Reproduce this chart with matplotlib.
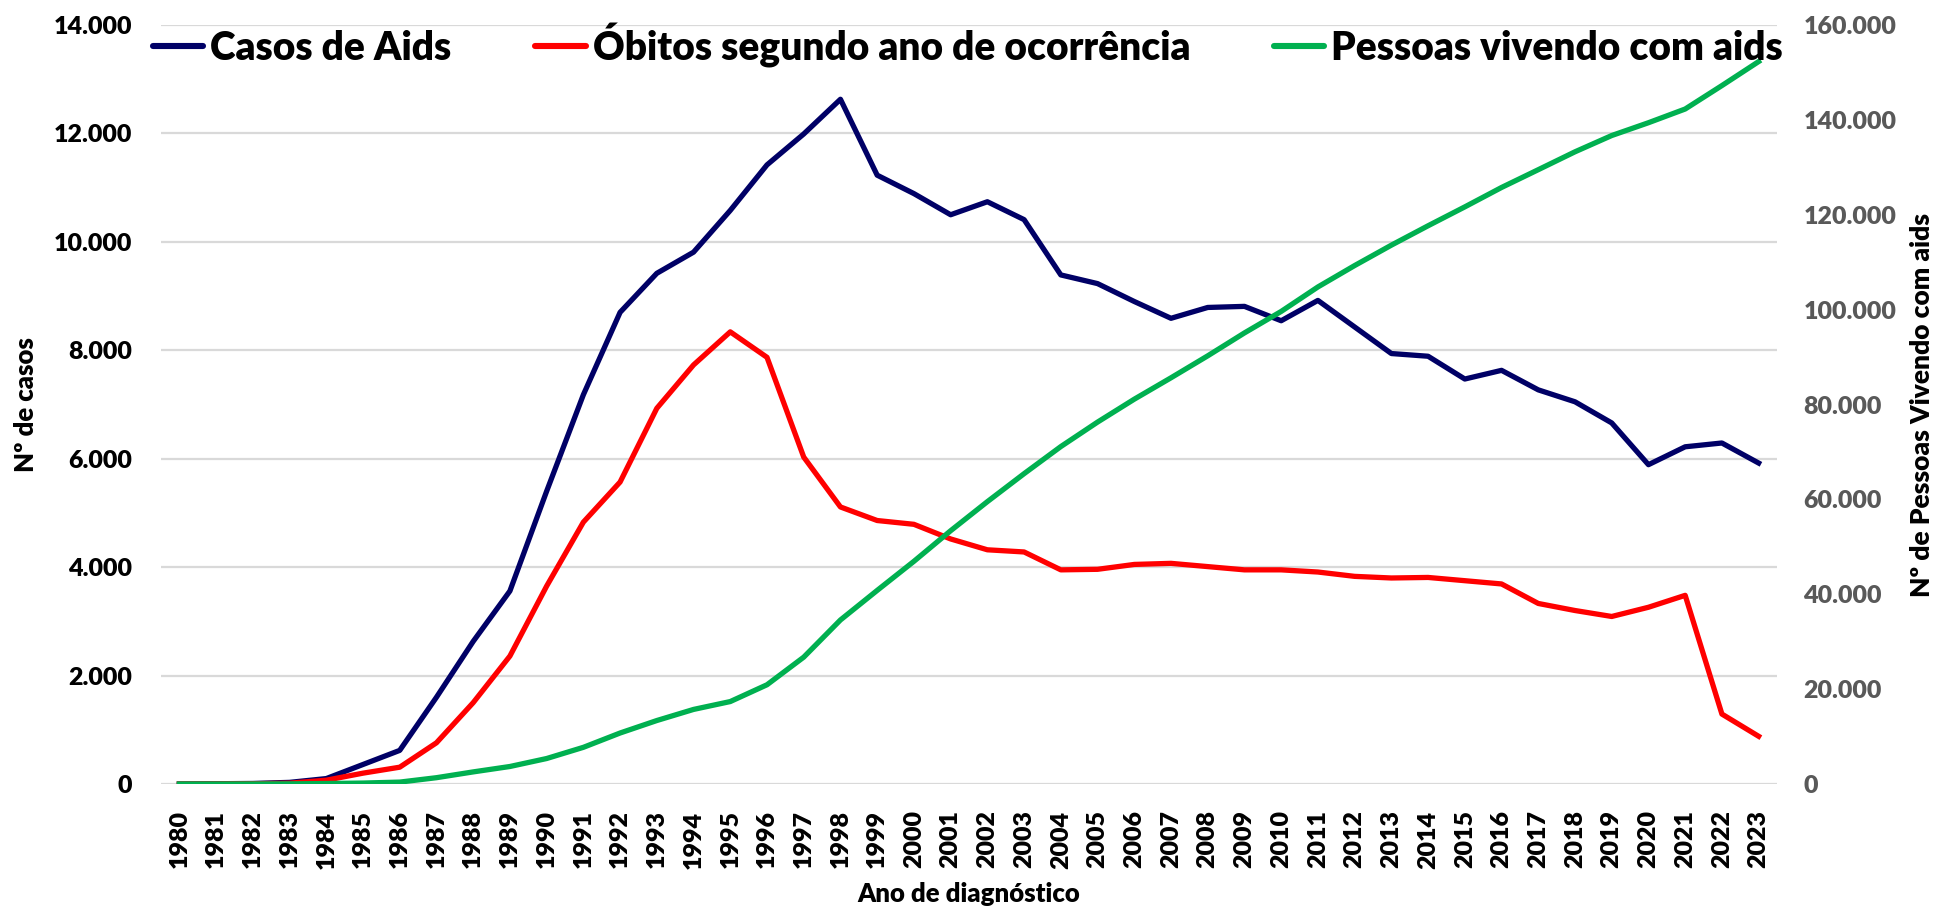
import matplotlib
matplotlib.use("Agg")
from matplotlib import pyplot as plt
from matplotlib.ticker import FuncFormatter, MultipleLocator

# Data
anos = list(range(1980, 2024))
casos_aids = [0, 5, 10, 30, 100, 360, 620, 1600, 2630, 3560,
              5400, 7180, 8700, 9420, 9810, 10580, 11420, 11990, 12630, 11230,
              10890, 10500, 10740, 10410, 9390, 9230, 8900, 8590, 8790, 8810,
              8545, 8920, 8430, 7940, 7890, 7470, 7630, 7270, 7050, 6660,
              5890, 6220, 6290, 5920]
obitos = [0, 2, 5, 15, 70, 200, 310, 760, 1500, 2360,
          3650, 4830, 5570, 6930, 7730, 8340, 7870, 6030, 5110, 4860,
          4790, 4520, 4320, 4280, 3950, 3960, 4050, 4070, 4010, 3950,
          3950, 3910, 3830, 3800, 3810, 3750, 3690, 3330, 3200, 3090,
          3260, 3480, 1290, 880]
pessoas_vivendo = [0, 0, 10, 30, 100, 200, 400, 1330, 2550, 3690,
                   5370, 7730, 10750, 13380, 15720, 17380, 20920, 26740, 34580, 40810,
                   46940, 53390, 59520, 65420, 71130, 76290, 81120, 85630, 90260, 95090,
                   99620, 104780, 109290, 113590, 117680, 121660, 125750, 129500, 133270, 136700,
                   139400, 142290, 147230, 152290]

legendas = ["Casos de Aids", "Óbitos segundo ano de ocorrência", "Pessoas vivendo com aids"]
cores = ["#000066", "#FF0000", "#00B050"]

plt.rcParams['font.family'] = ['Lato', 'DejaVu Sans']
plt.rcParams['font.weight'] = 'heavy'
PESO = 'heavy'


def milhar(v, pos):
    return f"{int(round(v)):,}".replace(",", ".")


W, H = 1939, 907
fig = plt.figure(figsize=(W / 100, H / 100), dpi=100)
ax = fig.add_axes([161 / W, 1 - 784 / H, (1777 - 161) / W, (784 - 25) / H])
ax2 = ax.twinx()

l1, = ax.plot(anos, casos_aids, color=cores[0], linewidth=3.8)
l2, = ax.plot(anos, obitos, color=cores[1], linewidth=3.8)
l3, = ax2.plot(anos, pessoas_vivendo, color=cores[2], linewidth=3.8)

# left axis
ax.set_xlim(1979.5, 2023.5)
ax.set_ylim(0, 14000)
ax.yaxis.set_major_locator(MultipleLocator(2000))
ax.yaxis.set_major_formatter(FuncFormatter(milhar))
ax.grid(True, axis='y', color='#d9d9d9', linewidth=1.6)
ax.set_axisbelow(True)
ax.set_xticks(anos)
ax.set_xticklabels([str(a) for a in anos], rotation=90)
ax.tick_params(axis='x', length=0, pad=19, labelsize=18)
ax.tick_params(axis='y', length=0, pad=21, labelsize=18, labelcolor='black')

# right axis
ax2.set_ylim(0, 160000)
ax2.yaxis.set_major_locator(MultipleLocator(20000))
ax2.yaxis.set_major_formatter(FuncFormatter(milhar))
ax2.tick_params(axis='y', length=0, pad=19, labelsize=18, labelcolor='#595959')

for a in (ax, ax2):
    for s in a.spines.values():
        s.set_visible(False)

ax.set_ylabel("Nº de casos", fontsize=18.5, fontweight=PESO)
ax.yaxis.set_label_coords((38 - 161) / 1616, 0.5)
ax2.set_ylabel("Nº de Pessoas Vivendo com aids", fontsize=19, fontweight=PESO)
ax2.yaxis.set_label_coords((1910 - 161) / 1616, 0.5)
ax.set_xlabel("Ano de diagnóstico", fontsize=18.5, fontweight=PESO, labelpad=10)

leg = fig.legend([l1, l2, l3], legendas, loc='center left',
                 bbox_to_anchor=(153 / W, 1 - 45 / H), ncol=3, frameon=False,
                 prop={'weight': PESO, 'size': 28}, handlelength=1.29,
                 handletextpad=0.18, columnspacing=2.16, borderpad=0, borderaxespad=0)
for h in leg.get_lines():
    h.set_linewidth(4.4)
    h.set_solid_capstyle('round')

fig.savefig("out.png", dpi=100)
